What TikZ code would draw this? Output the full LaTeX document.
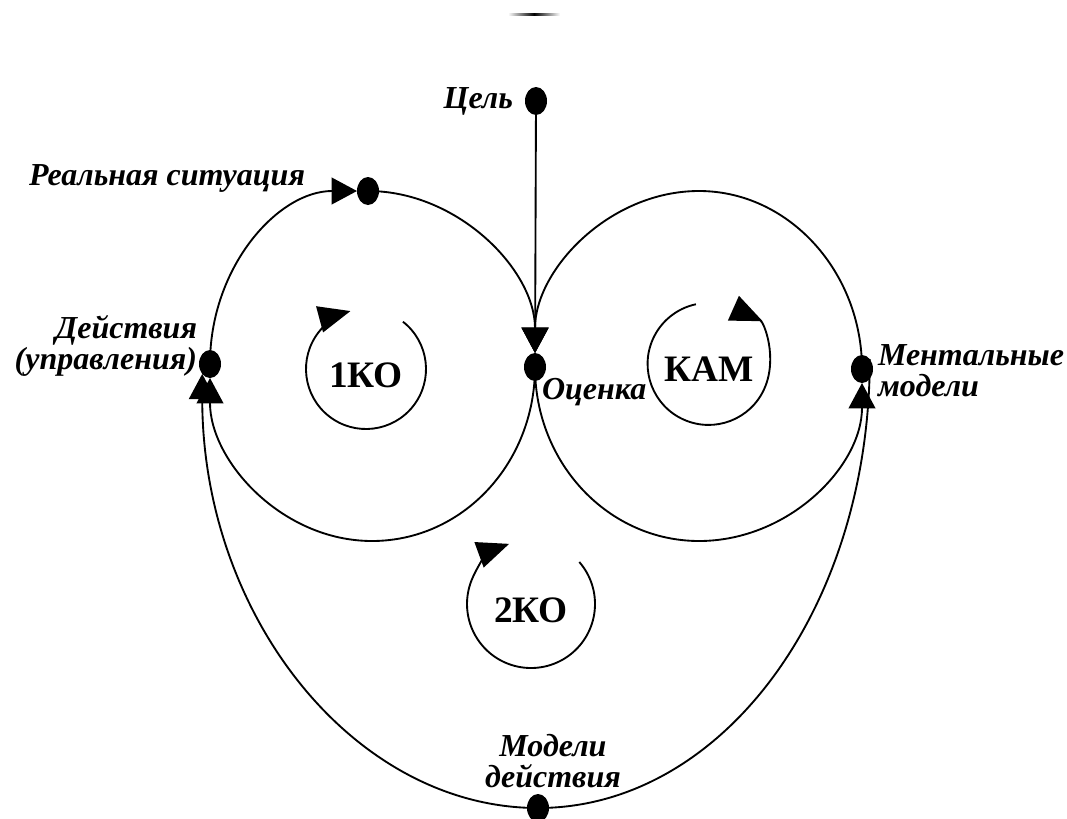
\documentclass[tikz,border=0pt]{standalone}
\usepackage{fontspec}
\setmainfont{Liberation Serif}
\usetikzlibrary{shapes}
\usetikzlibrary{arrows.meta}
\usetikzlibrary{positioning}
\usetikzlibrary{calc}

\begin{document}
\begin{tikzpicture}[x=0.75pt,y=-0.75pt,line width=1.4pt,>={Triangle[length=19pt,width=20pt]}]
        \tikzstyle{every node}=[inner sep=0pt, outer sep=0pt]
        \tikzstyle{dotnode}=[ellipse, fill, minimum width=16.5pt, minimum height=21pt]
        \tikzstyle{lbl}=[font=\fontsize{24}{23}\selectfont\bfseries\itshape]
        \tikzstyle{loopname}=[circle, minimum size=90pt, text height=28pt, text depth=0pt, font=\fontsize{28}{30}\selectfont\bfseries]
        \tikzstyle{looparrow}=[-{Triangle[length=24pt,width=20pt]}]
        \useasboundingbox (0,0) rectangle (1067,818);
        \shade[left color=white, right color=white, middle color=black] (508,13) rectangle (560,15.5);
        % points
        \node[dotnode] (goal) at (536,101) {};
        \node[dotnode] (real) at (368,191) {};
        \node[dotnode] (act) at (210,364) {};
        \node[dotnode] (eval) at (535,367) {};
        \node[dotnode] (ment) at (862,369) {};
        \node[dotnode] (modact) at (538,808) {};
        \coordinate (lbot) at (372,541);
        \coordinate (rtop) at (699,191);
        \coordinate (rbot) at (699,541);
        % labels
        \node[lbl, left=9pt of goal] (goaltxt) {Цель};
        \node[lbl, anchor=east] (realtxt) at (305,178) {Реальная ситуация};
        \node[lbl, align=right, anchor=east] (acttxt) at (197,346) {Действия\\(управления)};
        \node[lbl, anchor=west] (evaltxt) at (542,392) {Оценка};
        \node[lbl, align=left, anchor=west] (menttxt) at (878,371) {Ментальные\\модели};
        \node[lbl, align=center] (modtxt) at (553,761) {Модели\\действия};
        % loops
        \node[loopname] (ko1) at (366,369) {1КО};
        \node[loopname] (kam) at (709,363) {КАМ};
        \node[loopname, minimum size=96pt] (ko2) at (531,604) {2КО};
        \draw[looparrow] (ko1.52) arc[start angle=52, end angle=-255, radius=45pt];
        \draw[{Triangle[reversed,length=24pt,width=20pt]}-] (kam.66) arc[start angle=66, end angle=-258, radius=45.75pt];
        \draw[looparrow] (ko2.41) arc[start angle=41, end angle=-250, radius=48pt];
        % connectors
        \draw[->] (goal) -- (eval);
        \draw[->] (act.center) .. controls +(0,-97) and +(-90,0) .. (real);
        \draw[->] (real.center) .. controls +(90,0) and +(0,-97) .. (eval);
        \draw[->] (eval.center) .. controls +(0,97) and +(90,0) .. (lbot) .. controls +(-90,0) and +(0,97) .. (act);
        \draw[->] (eval.center) .. controls +(0,97) and +(-90,0) .. (rbot) .. controls +(90,0) and +(0,97) .. (ment);
        \draw[->] (ment.center) .. controls +(0,-97) and +(90,0) .. (rtop) .. controls +(-90,0) and +(0,-97) .. (eval);
        \draw[->] (ment.north east) .. controls +(0,250) and +(184,0) .. (modact.center) .. controls +(-184,0) and +(0,242) .. (act.south west);
      \end{tikzpicture}
\end{document}
